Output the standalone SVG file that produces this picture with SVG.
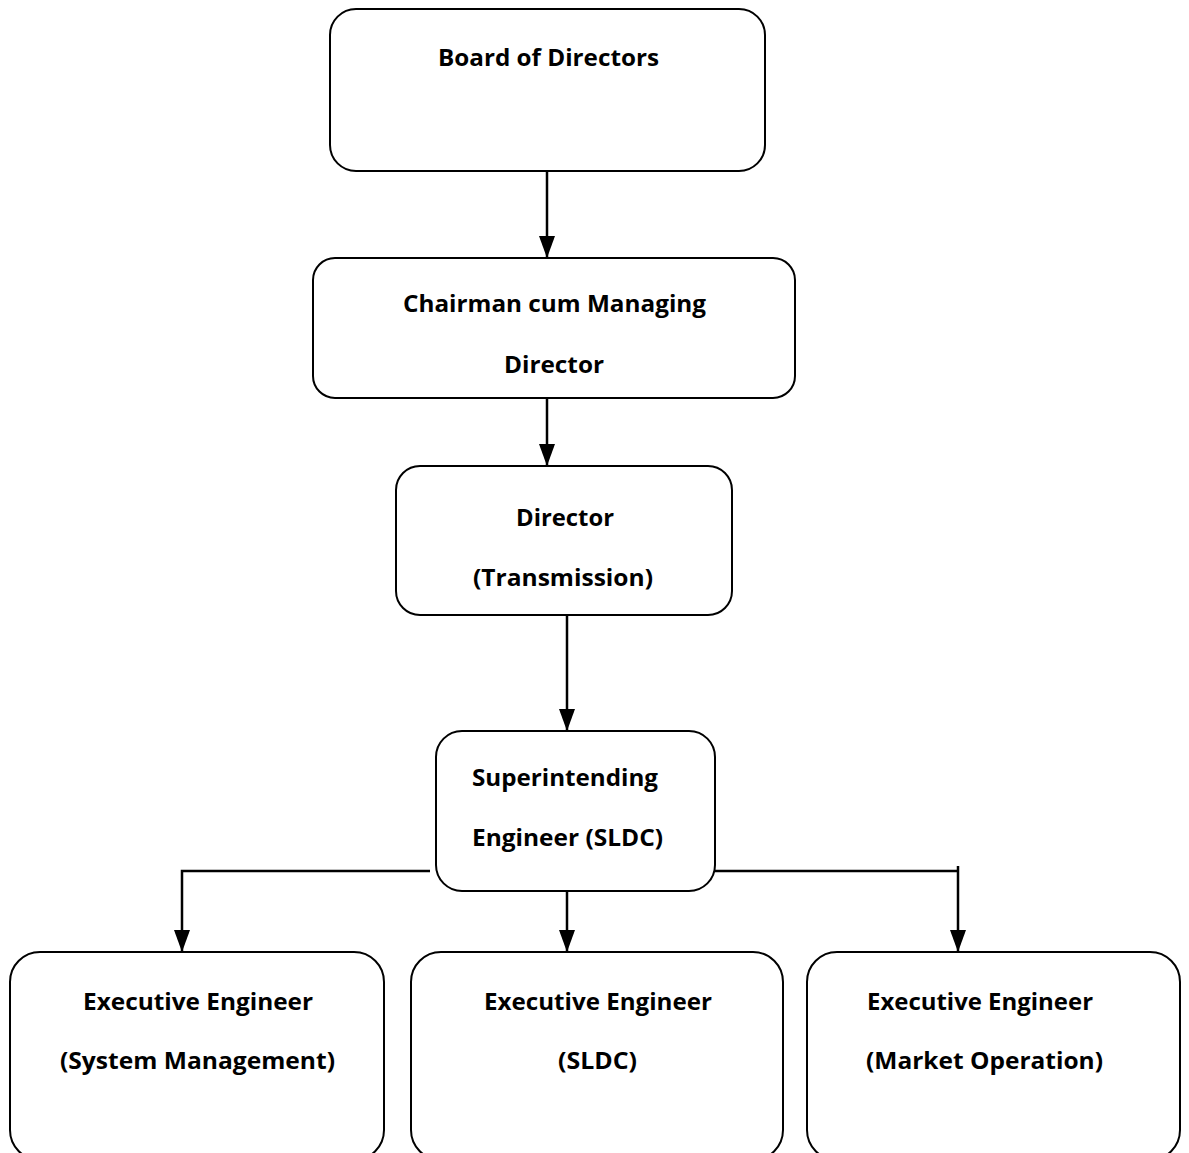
<svg xmlns="http://www.w3.org/2000/svg" width="1189" height="1153" viewBox="0 0 1189 1153">
<style>
.box{fill:#fff;stroke:#000;stroke-width:2}
.t{font-family:"Open Sans","Liberation Sans",sans-serif;font-weight:bold;font-size:23px;fill:#000}
.c{fill:none;stroke:#000;stroke-width:2.5}
</style>
<defs>
<marker id="ah" viewBox="0 0 22 16" markerUnits="userSpaceOnUse" markerWidth="22" markerHeight="16" refX="22" refY="8" orient="auto">
<path d="M0,0 L22,8 L0,16 z" fill="#000"/>
</marker>
</defs>
<rect width="1189" height="1153" fill="#fff"/>
<g id="connectors">
<path class="c" d="M547,171 V258" marker-end="url(#ah)"/>
<path class="c" d="M547,398 V466" marker-end="url(#ah)"/>
<path class="c" d="M567,615 V731" marker-end="url(#ah)"/>
<path class="c" d="M430,871 H182 V952" marker-end="url(#ah)"/>
<path class="c" d="M567,891 V952" marker-end="url(#ah)"/>
<path class="c" d="M709,871 H958"/>
<path class="c" d="M958,866 V952" marker-end="url(#ah)"/>
</g>
<g id="board">
<rect class="box" x="330" y="9" width="435" height="162" rx="26"/>
<text class="t" x="438" y="66" textLength="221" lengthAdjust="spacingAndGlyphs">Board of Directors</text>
</g>
<g id="cmd">
<rect class="box" x="313" y="258" width="482" height="140" rx="22"/>
<text class="t" x="403" y="312" textLength="303" lengthAdjust="spacingAndGlyphs">Chairman cum Managing</text>
<text class="t" x="504" y="373" textLength="100" lengthAdjust="spacingAndGlyphs">Director</text>
</g>
<g id="director">
<rect class="box" x="396" y="466" width="336" height="149" rx="24"/>
<text class="t" x="516" y="526" textLength="98" lengthAdjust="spacingAndGlyphs">Director</text>
<text class="t" x="473" y="586" textLength="180" lengthAdjust="spacingAndGlyphs">(Transmission)</text>
</g>
<g id="se">
<rect class="box" x="436" y="731" width="279" height="160" rx="26"/>
<text class="t" x="472" y="786" textLength="186" lengthAdjust="spacingAndGlyphs">Superintending</text>
<text class="t" x="472" y="846" textLength="191" lengthAdjust="spacingAndGlyphs">Engineer (SLDC)</text>
</g>
<g id="ee-sm">
<rect class="box" x="10" y="952" width="374" height="208" rx="30"/>
<text class="t" x="83" y="1010" textLength="230" lengthAdjust="spacingAndGlyphs">Executive Engineer</text>
<text class="t" x="60" y="1069" textLength="275" lengthAdjust="spacingAndGlyphs">(System Management)</text>
</g>
<g id="ee-sldc">
<rect class="box" x="411" y="952" width="372" height="208" rx="30"/>
<text class="t" x="484" y="1010" textLength="228" lengthAdjust="spacingAndGlyphs">Executive Engineer</text>
<text class="t" x="558" y="1069" textLength="79" lengthAdjust="spacingAndGlyphs">(SLDC)</text>
</g>
<g id="ee-mo">
<rect class="box" x="807" y="952" width="373" height="208" rx="30"/>
<text class="t" x="867" y="1010" textLength="226" lengthAdjust="spacingAndGlyphs">Executive Engineer</text>
<text class="t" x="866" y="1069" textLength="237" lengthAdjust="spacingAndGlyphs">(Market Operation)</text>
</g>
</svg>
